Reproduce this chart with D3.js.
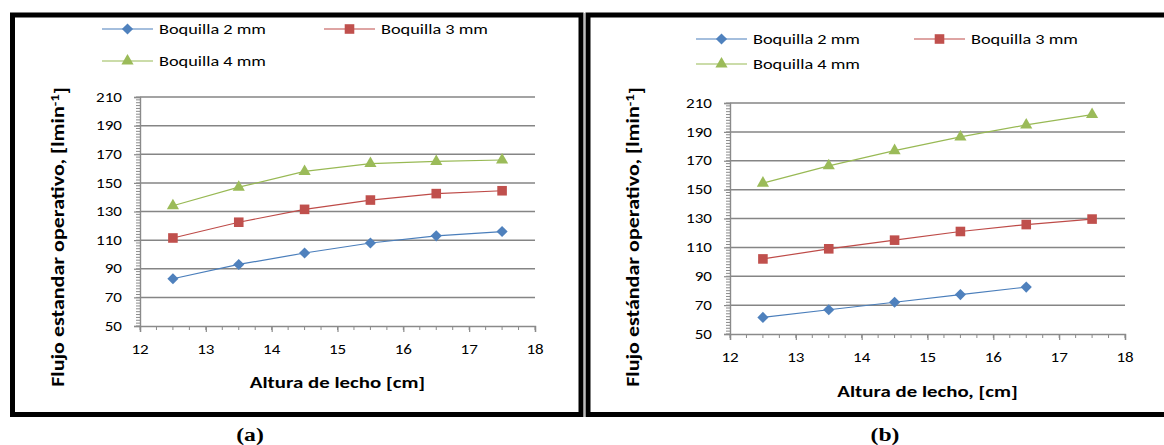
<!DOCTYPE html>
<html>
<head>
<meta charset="utf-8">
<script src="https://cdn.jsdelivr.net/npm/d3@7"></script>
<style>
  body { margin: 0; background: #fff; }
  text { font-family: Carlito, Lato, "Open Sans", sans-serif; }
</style>
</head>
<body>
<svg id="chart" width="1164" height="445"></svg>
<script>
// data
var alturas = [12.5, 13.5, 14.5, 15.5, 16.5, 17.5];
var seriesNames = ["Boquilla 2 mm", "Boquilla 3 mm", "Boquilla 4 mm"];

var a_b2 = [83, 93, 101, 108, 113, 116];
var a_b3 = [111.5, 122.5, 131.5, 138, 142.5, 144.5];
var a_b4 = [134, 147, 158, 163.5, 165, 166];

var b_b2 = [61.5, 66.8, 72, 77.3, 82.5];
var b_b3 = [102, 109, 115, 121, 125.8, 129.6];
var b_b4 = [154.5, 166.5, 177, 186.5, 194.8, 202];

var xTicks = [12, 13, 14, 15, 16, 17, 18];
var yTicks = [50, 70, 90, 110, 130, 150, 170, 190, 210];

var lineColors = ["#4a7ebb", "#be4b48", "#98b954"];
var markColors = ["#4f81bd", "#c0504d", "#9bbb59"];
var shapes = [d3.symbolSquare, d3.symbolSquare, d3.symbolTriangle];
var shapeSize = [62, 92, 64];
var shapeRot = [45, 0, 0];

// the source text is wider than Carlito, so it is stretched along its run
var SX = 1.28;

var svg = d3.select("#chart");

function stext(g, x, y, str, size, anchor, rot) {
  return g.append("g")
    .attr("transform", "translate(" + x + "," + y + ")" + (rot ? " rotate(" + rot + ")" : "") + " scale(" + SX + ",1)")
    .append("text")
    .attr("text-anchor", anchor)
    .attr("dy", "0.35em")
    .style("font-size", size + "px")
    .text(str);
}

function marker(sel, i) {
  sel.attr("d", d3.symbol().type(shapes[i]).size(shapeSize[i]))
    .attr("fill", markColors[i]);
}

function drawPanel(p) {
  var g = svg.append("g");

  // frame
  g.append("rect")
    .attr("x", p.frame[0]).attr("y", p.frame[1])
    .attr("width", p.frame[2]).attr("height", p.frame[3])
    .attr("fill", "none").attr("stroke", "#000").attr("stroke-width", 5);

  var x = d3.scaleLinear().domain([12, 18]).range([p.left, p.right]);
  var y = d3.scaleLinear().domain([50, 210]).range([p.bottom, p.top]);

  // gridlines
  g.selectAll(".grid")
    .data(yTicks.slice(1))
    .join("line")
    .attr("x1", p.left).attr("x2", p.right)
    .attr("y1", d => y(d)).attr("y2", d => y(d))
    .attr("stroke", "#858585").attr("stroke-width", 1.5);

  // minor ticks
  g.selectAll(".ymin")
    .data(d3.range(50, 210.1, 2))
    .join("line")
    .attr("x1", p.left - 4).attr("x2", p.left)
    .attr("y1", d => y(d)).attr("y2", d => y(d))
    .attr("stroke", "#8a8a8a");
  g.selectAll(".xmin")
    .data(d3.range(12, 18.01, 0.25))
    .join("line")
    .attr("x1", d => x(d)).attr("x2", d => x(d))
    .attr("y1", p.bottom).attr("y2", p.bottom + 4)
    .attr("stroke", "#8a8a8a");

  var yAxis = g.append("g")
    .attr("transform", "translate(" + p.left + ",0)")
    .call(d3.axisLeft(y).tickValues(yTicks).tickSize(6).tickFormat(""));
  var xAxis = g.append("g")
    .attr("transform", "translate(0," + p.bottom + ")")
    .call(d3.axisBottom(x).tickValues(xTicks).tickSize(6).tickFormat(""));

  [yAxis, xAxis].forEach(function(ax) {
    ax.select(".domain").attr("stroke", "#8a8a8a").attr("stroke-width", 1.4);
    ax.selectAll(".tick line").attr("stroke", "#8a8a8a").attr("stroke-width", 1.2);
  });

  // tick labels
  yTicks.forEach(function(v) {
    stext(g, p.left - 18, y(v), v, 13.3, "end");
  });
  xTicks.forEach(function(v) {
    stext(g, x(v), p.bottom + 23, v, 13.3, "middle");
  });

  // series
  p.series.forEach(function(vals, i) {
    var pts = vals.map((v, j) => [alturas[j], v]);
    g.append("path")
      .datum(pts)
      .attr("fill", "none")
      .attr("stroke", lineColors[i])
      .attr("stroke-width", 1.2)
      .attr("d", d3.line().x(d => x(d[0])).y(d => y(d[1])));
    g.selectAll(".m" + i)
      .data(pts)
      .join("path")
      .attr("transform", d => "translate(" + x(d[0]) + "," + y(d[1]) + ") rotate(" + shapeRot[i] + ")")
      .call(marker, i);
  });

  // legend
  seriesNames.forEach(function(name, i) {
    var lx = p.legend[i][0], ly = p.legend[i][1];
    g.append("line")
      .attr("x1", lx).attr("x2", lx + 51)
      .attr("y1", ly).attr("y2", ly)
      .attr("stroke", lineColors[i]).attr("stroke-width", 1.2);
    g.append("path")
      .attr("transform", "translate(" + (lx + 25.5) + "," + ly + ") rotate(" + shapeRot[i] + ")")
      .call(marker, i);
    stext(g, lx + 57, ly, name, 14.3, "start");
  });

  // axis titles
  var yt = stext(g, p.ytitle[0], p.ytitle[1], "", 17.2, "middle", -90)
    .style("font-weight", "bold");
  yt.append("tspan").text(p.ylabel);
  yt.append("tspan").attr("dy", "-0.45em").style("font-size", "11.5px").text("-1");
  yt.append("tspan").attr("dy", "0.45em").text("]");

  stext(g, (p.left + p.right) / 2, p.xtitleY, p.xlabel, 16.3, "middle")
    .style("font-weight", "bold");

  stext(g, p.tag[0], p.tag[1], p.tagText, 18.5, "middle")
    .attr("dy", 0)
    .style("font-family", "'Liberation Serif', 'Times New Roman', serif")
    .style("font-weight", "bold");
}

drawPanel({
  frame: [12.5, 15, 568.5, 399.5],
  left: 140, right: 535, top: 97, bottom: 326,
  series: [a_b2, a_b3, a_b4],
  legend: [[102, 29], [324, 29], [102, 61]],
  ylabel: "Flujo estandar operativo, [lmin",
  xlabel: "Altura de lecho [cm]",
  ytitle: [58, 237], xtitleY: 382,
  tag: [250, 441], tagText: "(a)"
});

drawPanel({
  frame: [588, 15, 590, 399.5],
  left: 730, right: 1125, top: 103, bottom: 334,
  series: [b_b2, b_b3, b_b4],
  legend: [[696, 39], [914, 39], [696, 64]],
  ylabel: "Flujo estándar operativo, [lmin",
  xlabel: "Altura de lecho, [cm]",
  ytitle: [633, 237], xtitleY: 391,
  tag: [885, 441], tagText: "(b)"
});

// thin grey seam between the two frames
svg.append("line")
  .attr("x1", 584.5).attr("x2", 584.5).attr("y1", 13).attr("y2", 417)
  .attr("stroke", "#bbb").attr("stroke-width", 1.5);
</script>
</body>
</html>
